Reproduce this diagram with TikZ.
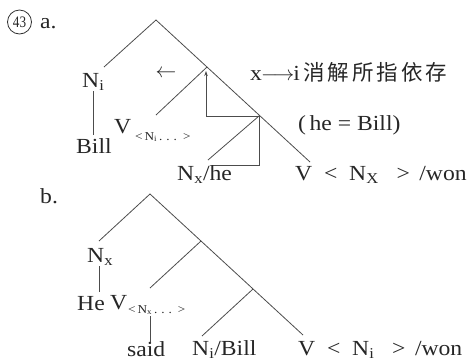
\documentclass[tikz,border=0pt]{standalone}
\usepackage{fontspec}
\setmainfont[FakeStretch=1.1]{Liberation Serif}
\newfontfamily\cjk{Noto Sans CJK SC}
\usetikzlibrary{arrows.meta}
\begin{document}
\begin{tikzpicture}[x=1pt,y=-1pt,
  lbl/.style={inner sep=0, anchor=base west, font=\fontsize{21.5}{24}\selectfont, text=black!85},
  sm/.style={inner sep=0, anchor=base west, font=\fontsize{12}{14}\selectfont, text=black!85},
  br/.style={line width=0.8pt, draw=black!70}]
\useasboundingbox (0,0) rectangle (471,360);
% heading
\node[circle, draw=black!80, line width=0.8pt, inner sep=0, minimum size=24pt,
      font=\fontsize{16}{16}\selectfont, text=black!85] (num) at (19.5,22) {\scalebox{0.75}[1]{43}};
\node[lbl] (la) at (40,28) {a.};
% ---------- tree a ----------
\coordinate (ar) at (156,20);
\coordinate (a1) at (207,67);
\coordinate (a2) at (259,116);
\coordinate (aL) at (104,67);
\coordinate (aV) at (156,115);
\coordinate (aNx) at (208,160);
\coordinate (aR) at (310,162);
\draw[br] (aL) -- (ar) -- (aR);
\draw[br] (a1) -- (aV);
\draw[br] (a2) -- (aNx);
\coordinate (aNt) at (93,91);
\coordinate (aNb) at (93,135);
\draw[br] (aNt) -- (aNb);
% box with arrow
\coordinate (bxl) at (206,116);
\coordinate (bxt) at (206,71);
\coordinate (bxr) at (259,165);
\coordinate (bxs) at (212,165);
\draw[br] (a2) -- (bxl);
\draw[br, -{Stealth[length=5pt,width=3.5pt]}] (bxl) -- (bxt);
\draw[br] (a2) -- (bxr) -- (bxs);
% labels a
\node[lbl] (aNi) at (82,87) {N\textsubscript{i}};
\node[lbl] (aBill) at (76,153) {Bill};
\node[lbl] (aVt) at (114,133) {V};
\node[sm] (aVs) at (135,140) {<\,N\textsubscript{i}\,.\,\,.\,\,.\,\,\,>};
\node[inner sep=0, font=\fontsize{21}{24}\selectfont, text=black!85] (arr) at (166,74) {$\leftarrow$};
\node[lbl] (xi) at (250,80) {x\kern-1pt$\longrightarrow$\kern-1pt i\hspace{3pt}{\cjk 消\hspace{3pt}解\hspace{3pt}所\hspace{3pt}指\hspace{3pt}依\hspace{3pt}存}};
\node[lbl] (heb) at (298,130) {(\,he = Bill)};
\node[lbl] (aNhe) at (177,180) {N\textsubscript{x}/he};
\node[lbl] (aVw) at (295,180) {V\ \ <\ \ N\textsubscript{X}\ \ \ >\ \,/won};
% ---------- tree b ----------
\node[lbl] (lb) at (40,203) {b.};
\coordinate (br0) at (150,194);
\coordinate (b1) at (201,241);
\coordinate (b2) at (253,289);
\coordinate (bL) at (99,241);
\coordinate (bV) at (150,288);
\coordinate (bN) at (202,336);
\coordinate (bR) at (303,335);
\draw[br] (bL) -- (br0) -- (bR);
\draw[br] (b1) -- (bV);
\draw[br] (b2) -- (bN);
\coordinate (bNt) at (99,266);
\coordinate (bNb) at (99,292);
\draw[br] (bNt) -- (bNb);
\coordinate (bSt) at (150,316);
\coordinate (bSb) at (150,342);
\draw[br] (bSt) -- (bSb);
\node[lbl] (bNx) at (87,262) {N\textsubscript{x}};
\node[lbl] (bHe) at (77,310) {He};
\node[lbl] (bVt) at (110,309) {V};
\node[sm] (bVs) at (128,313) {<\,N\textsubscript{x}\,.\,\,.\,\,.\,\,\,>};
\node[lbl] (bsaid) at (127,356) {said};
\node[lbl] (bNB) at (192,355) {N\textsubscript{i}/Bill};
\node[lbl] (bVw) at (298,355) {V\ \ <\ \ N\textsubscript{i}\ \ \ >\ \,/won};
\end{tikzpicture}
\end{document}
